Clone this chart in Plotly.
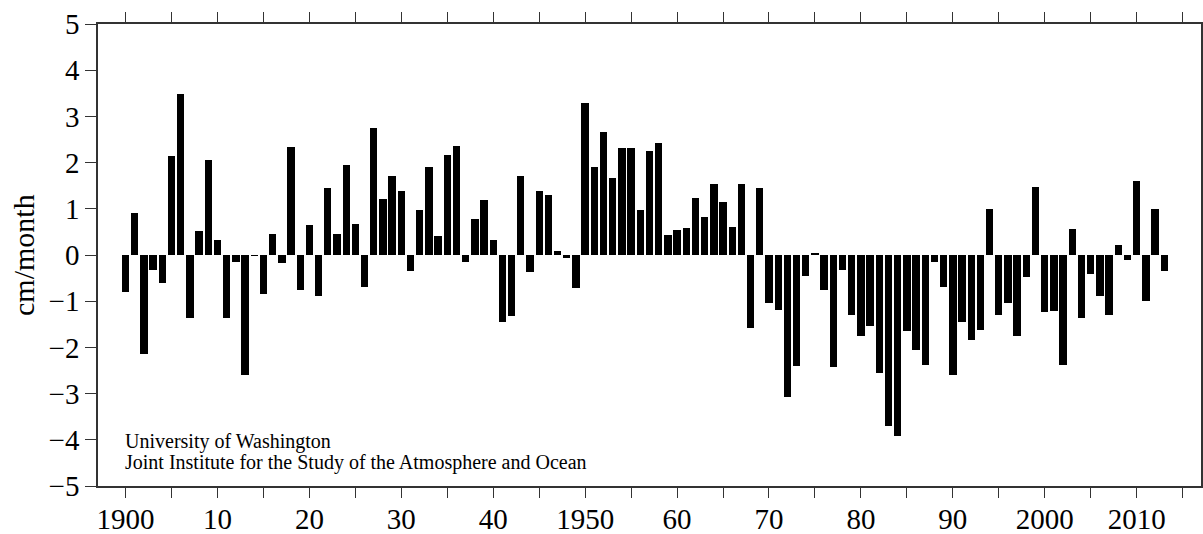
import plotly.graph_objects as go

years = list(range(1900, 2014))
values = [
    -0.81, 0.91, -2.14, -0.33, -0.61, 2.14, 3.48, -1.36, 0.53, 2.05,   # 1900-1909
    0.33, -1.37, -0.15, -2.60, -0.02, -0.84, 0.46, -0.18, 2.34, -0.75,  # 1910-1919
    0.64, -0.88, 1.44, 0.46, 1.95, 0.68, -0.69, 2.74, 1.22, 1.72,       # 1920-1929
    1.39, -0.35, 0.97, 1.90, 0.41, 2.16, 2.37, -0.16, 0.78, 1.20,       # 1930-1939
    0.32, -1.44, -1.33, 1.72, -0.36, 1.38, 1.29, 0.09, -0.07, -0.72,    # 1940-1949
    3.30, 1.90, 2.66, 1.67, 2.31, 2.31, 0.97, 2.26, 2.43, 0.43,         # 1950-1959
    0.55, 0.58, 1.24, 0.82, 1.53, 1.15, 0.60, 1.53, -1.57, 1.46,        # 1960-1969
    -1.04, -1.18, -3.08, -2.41, -0.46, 0.04, -0.75, -2.43, -0.33, -1.30, # 1970-1979
    -1.75, -1.53, -2.55, -3.71, -3.91, -1.64, -2.05, -2.39, -0.16, -0.69, # 1980-1989
    -2.60, -1.45, -1.85, -1.63, 0.99, -1.30, -1.04, -1.76, -0.47, 1.48,  # 1990-1999
    -1.24, -1.21, -2.38, 0.57, -1.37, -0.41, -0.89, -1.29, 0.22, -0.10,  # 2000-2009
    1.61, -1.00, 0.99, -0.35,                                            # 2010-2013
]

x_tick_vals = list(range(1900, 2020, 5))
x_tick_labels = {1900: "1900", 1910: "10", 1920: "20", 1930: "30", 1940: "40",
                 1950: "1950", 1960: "60", 1970: "70", 1980: "80", 1990: "90",
                 2000: "2000", 2010: "2010"}
y_tick_vals = list(range(-5, 6))
y_tick_text = [("\u2212" + str(-v)) if v < 0 else str(v) for v in y_tick_vals]

credit_lines = ["University of Washington",
                "Joint Institute for the Study of the Atmosphere and Ocean"]
y_title = "cm/month"

FONT = "Liberation Serif"

fig = go.Figure()
fig.add_trace(go.Bar(
    x=years, y=values, width=0.8,
    marker=dict(color="black", line=dict(width=0)),
    showlegend=False, hoverinfo="x+y",
))

fig.update_layout(
    width=1203, height=534,
    margin=dict(l=98, r=2, t=24, b=48, autoexpand=False),
    paper_bgcolor="white", plot_bgcolor="white",
    font=dict(family=FONT, color="black"),
    bargap=0,
)
fig.update_xaxes(
    range=[1897, 2017], tickmode="array", tickvals=x_tick_vals,
    ticktext=[x_tick_labels.get(v, "") for v in x_tick_vals],
    ticks="outside", ticklen=10, tickwidth=1.3, tickcolor="#333",
    showline=True, linecolor="#333", linewidth=1.6, mirror="ticks",
    showgrid=False, zeroline=False, ticklabelstandoff=-4,
    tickfont=dict(family=FONT, size=29, color="black"),
)
fig.update_yaxes(
    range=[-5, 5], tickmode="array", tickvals=y_tick_vals, ticktext=y_tick_text,
    ticks="outside", ticklen=11, tickwidth=1.3, tickcolor="#333",
    showline=True, linecolor="#333", linewidth=1.6, mirror="ticks",
    showgrid=False, zeroline=False,
    tickfont=dict(family=FONT, size=29, color="black"),
)

fig.add_annotation(
    x=-0.068, y=0.5, xref="paper", yref="paper", text=y_title, textangle=-90,
    showarrow=False, xanchor="center", yanchor="middle",
    font=dict(family=FONT, size=30, color="black"),
)
for i, line in enumerate(credit_lines):
    fig.add_annotation(
        x=1899.7, y=-4.04 - i * 0.46, xref="x", yref="y", text=line,
        showarrow=False, xanchor="left", yanchor="middle",
        font=dict(family=FONT, size=20, color="black"),
    )

fig.write_html(
    "out.html",
    config={"displayModeBar": False},
    post_script="document.body.style.margin='0';document.body.style.overflow='hidden';",
)
